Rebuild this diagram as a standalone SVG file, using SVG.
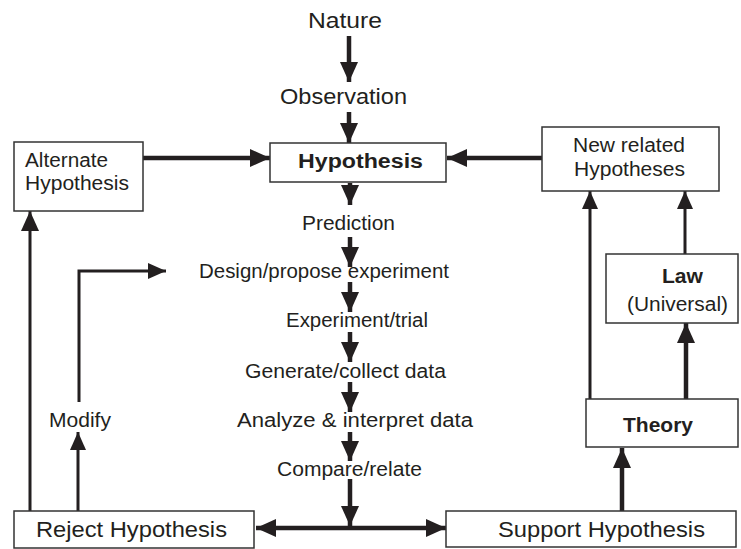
<svg xmlns="http://www.w3.org/2000/svg" width="741" height="549" viewBox="0 0 741 549">
<defs>
<marker id="ah" viewBox="0 0 20 18" markerWidth="20" markerHeight="18" refX="20" refY="9" orient="auto" markerUnits="userSpaceOnUse"><path d="M0,0 L20,9 L0,18 z" fill="#231f20"/></marker>
<marker id="ahs" viewBox="0 0 18 16" markerWidth="18" markerHeight="16" refX="18" refY="8" orient="auto" markerUnits="userSpaceOnUse"><path d="M0,0 L18,8 L0,16 z" fill="#231f20"/></marker>
<marker id="ahb" viewBox="0 0 20 18" markerWidth="20" markerHeight="18" refX="0" refY="9" orient="auto" markerUnits="userSpaceOnUse"><path d="M20,0 L0,9 L20,18 z" fill="#231f20"/></marker>
</defs>
<style>
.box{fill:#fff;stroke:#333;stroke-width:1.5}
.t{font-family:"Liberation Sans",Arial,sans-serif;font-size:19.5px;fill:#231f20;text-anchor:middle}
.big{font-size:21.5px}
.b{font-weight:bold;font-size:20px}
.k{fill:none;stroke:#231f20;stroke-width:4.5}
.m{fill:none;stroke:#231f20;stroke-width:3}
</style>
<rect width="741" height="549" fill="#fff"/>
<g id="connectors">
<line class="k" x1="349" y1="36" x2="349" y2="82" marker-end="url(#ah)"/>
<line class="k" x1="349" y1="112" x2="349" y2="143" marker-end="url(#ah)"/>
<line class="k" x1="350" y1="183" x2="350" y2="205" marker-end="url(#ah)"/>
<line class="k" x1="350" y1="237" x2="350" y2="267" marker-end="url(#ah)"/>
<line class="k" x1="350" y1="282" x2="350" y2="312" marker-end="url(#ah)"/>
<line class="k" x1="350" y1="332" x2="350" y2="362" marker-end="url(#ah)"/>
<line class="k" x1="350" y1="382" x2="350" y2="412" marker-end="url(#ah)"/>
<line class="k" x1="350" y1="432" x2="350" y2="461" marker-end="url(#ah)"/>
<line class="k" x1="350" y1="479" x2="350" y2="526" marker-end="url(#ah)"/>
<line class="k" x1="256" y1="528" x2="446" y2="528" marker-start="url(#ahb)" marker-end="url(#ah)"/>
<line class="k" x1="622" y1="511" x2="622" y2="448" marker-end="url(#ah)"/>
<line class="k" x1="686" y1="399" x2="686" y2="323" marker-end="url(#ah)"/>
<line class="m" x1="685" y1="254" x2="685" y2="191" marker-end="url(#ahs)"/>
<line class="m" x1="590" y1="399" x2="590" y2="191" marker-end="url(#ahs)"/>
<line class="k" x1="542" y1="158" x2="447" y2="158" marker-end="url(#ah)"/>
<line class="k" x1="143" y1="158" x2="270" y2="158" marker-end="url(#ah)"/>
<line class="m" x1="30" y1="511" x2="30" y2="211" marker-end="url(#ah)"/>
<line class="m" x1="78" y1="511" x2="78" y2="432" marker-end="url(#ahs)"/>
<polyline class="m" points="79,402 79,271 166,271" marker-end="url(#ahs)"/>
</g>
<g id="nature"><text class="t big" x="345" y="28" textLength="74" lengthAdjust="spacingAndGlyphs">Nature</text></g>
<g id="observation"><text class="t big" x="343.5" y="104" textLength="127" lengthAdjust="spacingAndGlyphs">Observation</text></g>
<g id="hypothesis"><rect class="box" x="270" y="143" width="176" height="39"/><text class="t b" x="360.5" y="168" textLength="125" lengthAdjust="spacingAndGlyphs">Hypothesis</text></g>
<g id="alternate"><rect class="box" x="14" y="142" width="129" height="69"/><text class="t" style="text-anchor:start" x="25" y="167" textLength="83" lengthAdjust="spacingAndGlyphs">Alternate</text><text class="t" style="text-anchor:start" x="25" y="190" textLength="104" lengthAdjust="spacingAndGlyphs">Hypothesis</text></g>
<g id="newrelated"><rect class="box" x="542" y="127" width="177" height="64"/><text class="t" x="629" y="152" textLength="112" lengthAdjust="spacingAndGlyphs">New related</text><text class="t" x="629.5" y="176" textLength="111" lengthAdjust="spacingAndGlyphs">Hypotheses</text></g>
<g id="prediction"><text class="t" x="348.5" y="230" textLength="93" lengthAdjust="spacingAndGlyphs">Prediction</text></g>
<g id="design"><text class="t" x="324" y="278" textLength="250" lengthAdjust="spacingAndGlyphs">Design/propose experiment</text></g>
<g id="experiment"><text class="t" x="357" y="327" textLength="142" lengthAdjust="spacingAndGlyphs">Experiment/trial</text></g>
<g id="generate"><text class="t" x="345.5" y="378" textLength="201" lengthAdjust="spacingAndGlyphs">Generate/collect data</text></g>
<g id="analyze"><text class="t" x="355" y="427" textLength="236" lengthAdjust="spacingAndGlyphs">Analyze &amp; interpret data</text></g>
<g id="compare"><text class="t" x="349.5" y="476" textLength="145" lengthAdjust="spacingAndGlyphs">Compare/relate</text></g>
<g id="modify"><text class="t" x="80" y="427" textLength="62" lengthAdjust="spacingAndGlyphs">Modify</text></g>
<g id="law"><rect class="box" x="606" y="254" width="132" height="69"/><text class="t b" x="682.5" y="283" textLength="41" lengthAdjust="spacingAndGlyphs">Law</text><text class="t" x="677.5" y="311" textLength="101" lengthAdjust="spacingAndGlyphs">(Universal)</text></g>
<g id="theory"><rect class="box" x="586" y="399" width="152" height="48"/><text class="t b" x="658" y="432" textLength="70" lengthAdjust="spacingAndGlyphs">Theory</text></g>
<g id="reject"><rect class="box" x="14" y="511" width="240" height="37"/><text class="t big" x="131.5" y="537" textLength="191" lengthAdjust="spacingAndGlyphs">Reject Hypothesis</text></g>
<g id="support"><rect class="box" x="446" y="511" width="290" height="36"/><text class="t big" x="601.5" y="537" textLength="207" lengthAdjust="spacingAndGlyphs">Support Hypothesis</text></g>
</svg>
